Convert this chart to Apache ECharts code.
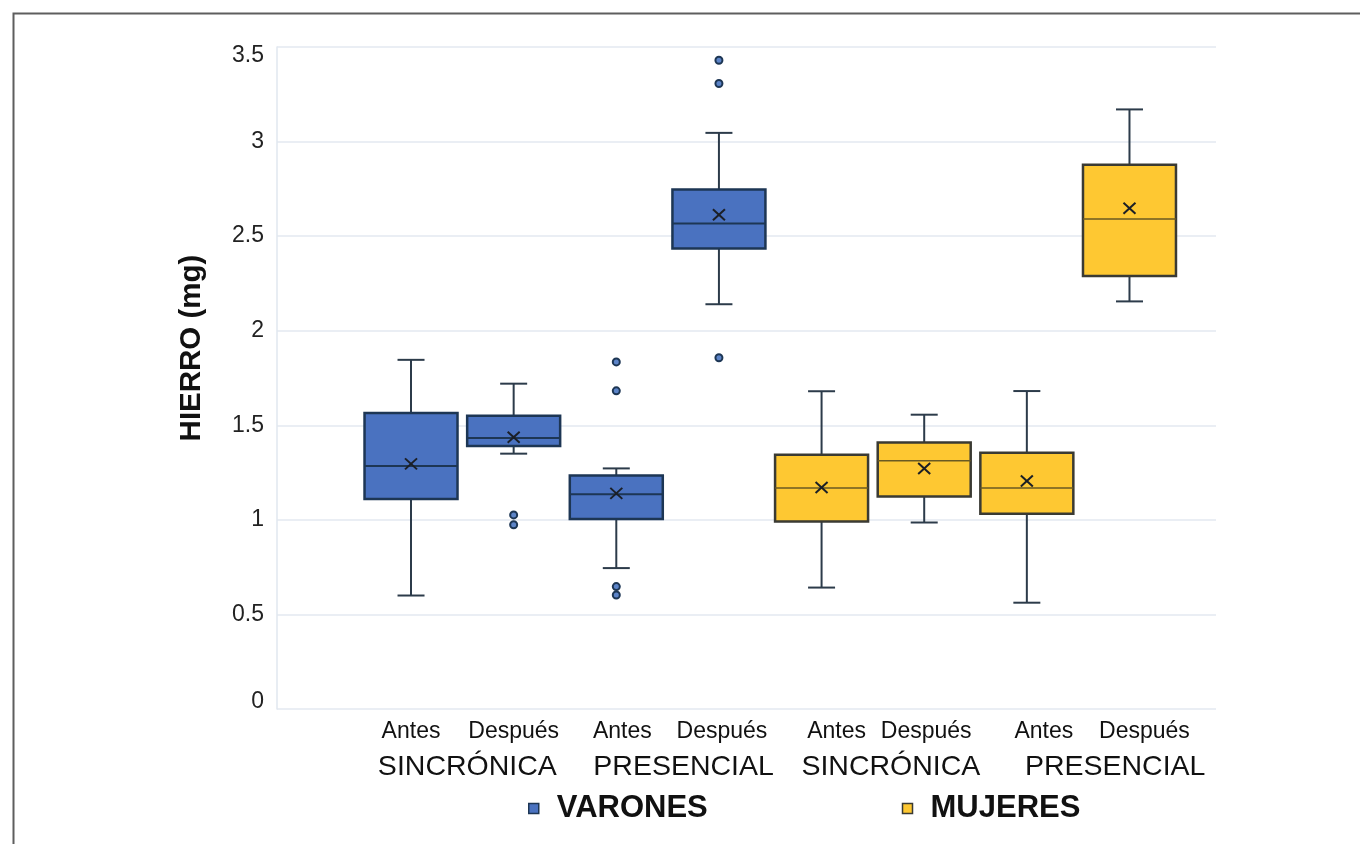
<!DOCTYPE html>
<html><head><meta charset="utf-8">
<script src="https://cdn.jsdelivr.net/npm/echarts@6/dist/echarts.min.js"></script>
<style>html,body{margin:0;padding:0;background:#fff}#c{width:1360px;height:844px}</style>
</head><body><div id="c"></div>
<script>
// ---- data ----
const categories = ['Antes', 'Después', 'Antes', 'Después', 'Antes', 'Después', 'Antes', 'Después'];
const groupLabels = ['SINCRÓNICA', 'PRESENCIAL', 'SINCRÓNICA', 'PRESENCIAL'];
const seriesNames = ['VARONES', 'MUJERES'];

const varonesIndex  = [0, 1, 2, 3];
const varonesMin    = [0.60, 1.35, 0.745, 2.14];
const varonesQ1     = [1.11, 1.39, 1.005, 2.435];
const varonesMedian = [1.285, 1.433, 1.135, 2.567];
const varonesQ3     = [1.565, 1.55, 1.234, 2.747];
const varonesMax    = [1.846, 1.72, 1.272, 3.046];
const varonesMean   = [1.296, 1.437, 1.14, 2.613];
const varonesOutliers = [[1, 1.026], [1, 0.974], [2, 1.835], [2, 1.682], [2, 0.647], [2, 0.603], [3, 3.43], [3, 3.307], [3, 1.857]];

const mujeresIndex  = [4, 5, 6, 7];
const mujeresMin    = [0.642, 0.986, 0.562, 2.155];
const mujeresQ1     = [0.991, 1.123, 1.032, 2.289];
const mujeresMedian = [1.168, 1.312, 1.168, 2.59];
const mujeresQ3     = [1.344, 1.409, 1.355, 2.877];
const mujeresMax    = [1.68, 1.556, 1.681, 3.17];
const mujeresMean   = [1.171, 1.272, 1.206, 2.647];

// ---- build ----
function rows(idx, mn, q1, md, q3, mx, me) {
  return idx.map((c, k) => [c, mn[k], q1[k], md[k], q3[k], mx[k], me[k]]);
}
function boxRenderer(fill, edge, medianColor, medianWidth) {
  return function (params, api) {
    const i = api.value(0);
    const band = api.size([1, 0])[0];
    const half = band * 0.453;
    const cap = 13.5;
    const pMin = api.coord([i, api.value(1)]);
    const pQ1 = api.coord([i, api.value(2)]);
    const pMed = api.coord([i, api.value(3)]);
    const pQ3 = api.coord([i, api.value(4)]);
    const pMax = api.coord([i, api.value(5)]);
    const pMean = api.coord([i, api.value(6)]);
    const cx = pMed[0];
    const wl = { stroke: '#2c3b4a', lineWidth: 2 };
    const mx = pMean[1];
    return {
      type: 'group', children: [
        { type: 'line', shape: { x1: cx, y1: pMax[1], x2: cx, y2: pQ3[1] }, style: wl },
        { type: 'line', shape: { x1: cx, y1: pQ1[1], x2: cx, y2: pMin[1] }, style: wl },
        { type: 'line', shape: { x1: cx - cap, y1: pMax[1], x2: cx + cap, y2: pMax[1] }, style: wl },
        { type: 'line', shape: { x1: cx - cap, y1: pMin[1], x2: cx + cap, y2: pMin[1] }, style: wl },
        { type: 'rect', shape: { x: cx - half, y: pQ3[1], width: 2 * half, height: pQ1[1] - pQ3[1] }, style: { fill: fill, stroke: edge, lineWidth: 2.5 } },
        { type: 'line', shape: { x1: cx - half, y1: pMed[1], x2: cx + half, y2: pMed[1] }, style: { stroke: medianColor, lineWidth: medianWidth } },
        { type: 'line', shape: { x1: cx - 6, y1: mx - 5.5, x2: cx + 6, y2: mx + 5.5 }, style: { stroke: '#1b1f26', lineWidth: 2 } },
        { type: 'line', shape: { x1: cx - 6, y1: mx + 5.5, x2: cx + 6, y2: mx - 5.5 }, style: { stroke: '#1b1f26', lineWidth: 2 } }
      ]
    };
  };
}
const BLUE = '#4a72c0', BLUE_EDGE = '#1d3654';
const YEL = '#fec832', YEL_EDGE = '#3a3a33';
const FONT = '"Liberation Sans", Arial, sans-serif';

const gridTop = 47, gridBottom = 135;
const groupShift = ['g0', 'g1', 'g2', 'g3'];
const catShift = ['c0', 'c0', 'c6', 'c3', 'c15', 'c2', 'c17', 'c15'];
function catRich() {
  const r = {};
  [0, 2, 3, 6, 15, 17].forEach(function (s) {
    r['c' + s] = { fontSize: 23, color: '#111', fontFamily: FONT, padding: [0, 0, 0, 2 * s] };
  });
  return r;
}
const chart = echarts.init(document.getElementById('c'), null, { renderer: 'canvas' });
chart.setOption({
  backgroundColor: '#ffffff',
  animation: false,
  textStyle: { fontFamily: FONT },
  graphic: [{
    type: 'rect', left: 11, top: 11, shape: { x: 0, y: 0, width: 1400, height: 900 },
    style: { fill: 'none', stroke: '#5e5e5e', lineWidth: 2 }, silent: true, z: -1
  }],
  grid: [
    { left: 277, right: 144, top: gridTop, bottom: gridBottom },
    { left: 359.7, right: 179.2, top: gridTop, bottom: gridBottom }
  ],
  legend: {
    data: [
      { name: seriesNames[0], icon: 'rect', itemStyle: { color: BLUE, borderColor: BLUE_EDGE, borderWidth: 1.5 } },
      { name: seriesNames[1], icon: 'rect', itemStyle: { color: YEL, borderColor: YEL_EDGE, borderWidth: 1.5 } }
    ],
    left: 523, top: 788, itemWidth: 10, itemHeight: 10, itemGap: 194,
    textStyle: { fontSize: 31, fontWeight: 'bold', color: '#111', fontFamily: FONT, padding: [0, 0, 0, 13] }
  },
  xAxis: [
    { type: 'value', gridIndex: 0, show: false, min: 0, max: 1 },
    {
      type: 'category', gridIndex: 1, data: categories, boundaryGap: true,
      axisLine: { show: false }, axisTick: { show: false },
      axisLabel: {
        interval: 0, color: '#111', margin: 11, fontFamily: FONT,
        formatter: function (v, idx) { return '{' + catShift[idx] + '|' + v + '}'; },
        rich: catRich()
      }
    },
    {
      type: 'category', gridIndex: 1, data: groupLabels, position: 'bottom', offset: 33,
      axisLine: { show: false }, axisTick: { show: false },
      axisLabel: {
        interval: 0, color: '#111', margin: 11, fontFamily: FONT,
        formatter: function (v, idx) { return '{' + groupShift[idx] + '|' + v + '}'; },
        rich: {
          g0: { fontSize: 28.5, color: '#111', fontFamily: FONT, padding: [0, 0, 0, 10] },
          g1: { fontSize: 28.5, color: '#111', fontFamily: FONT, padding: [0, 0, 0, 32] },
          g2: { fontSize: 28.5, color: '#111', fontFamily: FONT, padding: [0, 0, 0, 36] },
          g3: { fontSize: 28.5, color: '#111', fontFamily: FONT, padding: [0, 0, 0, 74] }
        }
      }
    }
  ],
  yAxis: [
    {
      type: 'value', gridIndex: 0, min: 0, max: 3.5, interval: 0.5,
      name: 'HIERRO (mg)', nameLocation: 'middle', nameGap: 70, nameRotate: 90,
      nameTextStyle: { fontSize: 29.5, fontWeight: 'bold', color: '#111', fontFamily: FONT, padding: [0, 0, 0, 60] },
      axisLine: { show: true, lineStyle: { color: '#e1e7ef', width: 1.5 } },
      axisTick: { show: false },
      axisLabel: {
        color: '#222', margin: 13, fontFamily: FONT,
        formatter: function (v) {
          if (v === 0) return '{lo|' + v + '}';
          if (v === 3.5) return '{hi|' + v + '}';
          return '{n|' + v + '}';
        },
        rich: {
          n: { fontSize: 23, color: '#222', fontFamily: FONT },
          lo: { fontSize: 23, color: '#222', fontFamily: FONT, padding: [0, 0, 14, 0] },
          hi: { fontSize: 23, color: '#222', fontFamily: FONT, padding: [18, 0, 0, 0] }
        }
      },
      splitLine: { show: true, lineStyle: { color: '#e3e9f1', width: 1.5 } }
    },
    { type: 'value', gridIndex: 1, min: 0, max: 3.5, show: false }
  ],
  series: [
    {
      name: seriesNames[0], type: 'custom', xAxisIndex: 1, yAxisIndex: 1,
      itemStyle: { color: BLUE },
      encode: { x: 0, y: [1, 2, 3, 4, 5, 6] },
      data: rows(varonesIndex, varonesMin, varonesQ1, varonesMedian, varonesQ3, varonesMax, varonesMean),
      renderItem: boxRenderer(BLUE, BLUE_EDGE, '#1d3654', 2)
    },
    {
      name: seriesNames[1], type: 'custom', xAxisIndex: 1, yAxisIndex: 1,
      itemStyle: { color: YEL },
      encode: { x: 0, y: [1, 2, 3, 4, 5, 6] },
      data: rows(mujeresIndex, mujeresMin, mujeresQ1, mujeresMedian, mujeresQ3, mujeresMax, mujeresMean),
      renderItem: boxRenderer(YEL, YEL_EDGE, '#6a5a22', 1.5)
    },
    {
      name: seriesNames[0], type: 'scatter', xAxisIndex: 1, yAxisIndex: 1,
      symbol: 'circle', symbolSize: 7,
      itemStyle: { color: '#5c84c8', borderColor: '#1d3654', borderWidth: 2, opacity: 1 },
      data: varonesOutliers
    }
  ]
});
</script>
</body></html>
